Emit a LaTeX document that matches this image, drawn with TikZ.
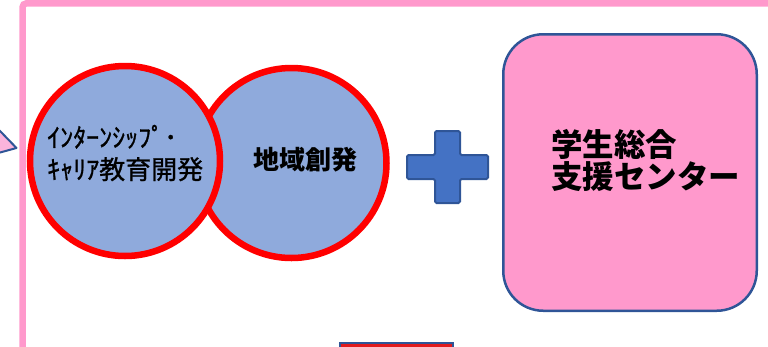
\documentclass[tikz,border=0pt]{standalone}
\usepackage{fontspec}
\newfontfamily\jp{Noto Sans CJK JP}
\newfontfamily\jpmed[FakeBold=1]{Noto Sans CJK JP}
\definecolor{framepink}{HTML}{FF99CC}
\definecolor{circblue}{HTML}{8FAADC}
\definecolor{plusblue}{HTML}{4472C4}
\definecolor{darkblue}{HTML}{2F5597}
\definecolor{tripink}{HTML}{FBB4DC}
\definecolor{barred}{HTML}{E01B1E}
\begin{document}
\begin{tikzpicture}[x=1pt,y=-1pt,
  bubble/.style={circle, draw=red, line width=6.5pt, fill=circblue, minimum size=190pt, inner sep=0pt},
  centerbox/.style={rectangle, rounded corners=40pt, draw=darkblue, line width=2.5pt, fill=framepink, minimum width=253.5pt, minimum height=276.5pt, inner sep=0pt},
  plusshape/.style={draw=darkblue, line width=2pt, fill=plusblue, rounded corners=1.5pt},
  jptext/.style={inner sep=0pt, text=black},
  careerfont/.style={font=\jpmed\fontsize{26}{30}\selectfont},
  centerfont/.style={font=\jp\bfseries\fontsize{31.5}{33}\selectfont}
]
\useasboundingbox (0,0) rectangle (768,346);
% pink frame
\draw[framepink, line width=6.5pt, rounded corners=4pt] (22.5,420) -- (22.5,3.3) -- (820,3.3);
% triangle pointer at left edge
\draw[fill=tripink, draw=darkblue, line width=2pt, line join=round] (-12,118.6) -- (16.5,148) -- (-12,155.8) -- cycle;
% circles
\node[bubble] (region) at (291.5,163) {};
\node[bubble] (career) at (125,161) {};
\node[jptext, careerfont, anchor=base west] (careerA) at (47,147) {ｲﾝﾀｰﾝｼｯﾌﾟ･};
\node[jptext, careerfont, anchor=base west] (careerB) at (47,179) {ｷｬﾘｱ教育開発};
\node[jptext, font=\jp\bfseries\fontsize{26}{30}\selectfont] (regiontext) at (305,160) {地域創発};
% plus
\draw[plusshape] (435,131) -- (460,131) -- (460,155) -- (488,155) -- (488,179) -- (460,179) -- (460,203) -- (435,203) -- (435,179) -- (407,179) -- (407,155) -- (435,155) -- cycle;
% support center box
\node[centerbox] (center) at (630,172.5) {};
\node[jptext, centerfont, anchor=base west] (centerA) at (551,156.5) {学生総合};
\node[jptext, centerfont, anchor=base west] (centerB) at (551,188.5) {支援センター};
% bottom bar
\draw[fill=barred, draw=darkblue, line width=1.5pt] (340,343) rectangle (453,380);
\end{tikzpicture}
\end{document}
